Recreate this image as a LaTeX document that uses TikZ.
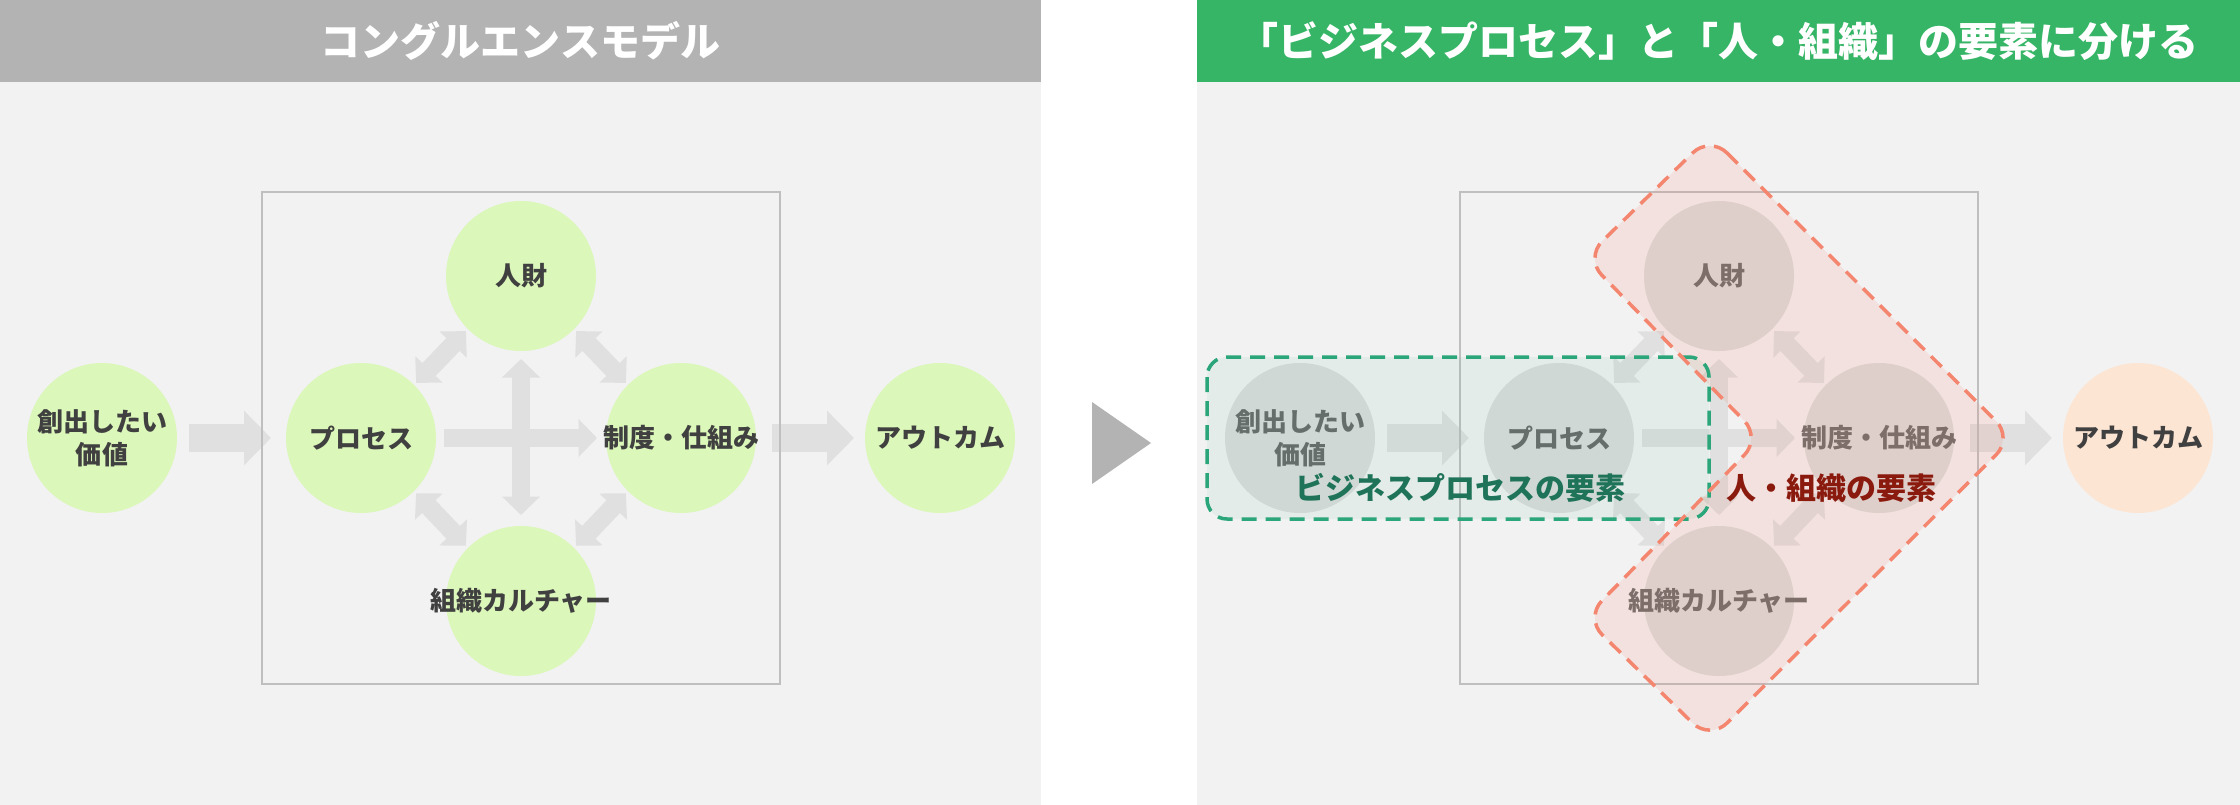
\documentclass[tikz,border=0pt]{standalone}
\usepackage{fontspec}
\setmainfont{Noto Sans CJK JP}
\usepackage{tikz}
\usetikzlibrary{arrows.meta,positioning}
\definecolor{panel-bg}{HTML}{F2F2F2}
\definecolor{header-gray}{HTML}{B3B3B3}
\definecolor{header-green}{HTML}{35B565}
\definecolor{bubble-green}{HTML}{DBF7BA}
\definecolor{bubble-gray}{HTML}{DCDCDC}
\definecolor{bubble-peach}{HTML}{FDE5D3}
\definecolor{arrow-gray}{HTML}{E0E0E0}
\definecolor{frame-gray}{HTML}{BFBFBF}
\definecolor{text-dark}{HTML}{404040}
\definecolor{text-faded}{HTML}{6A6A6A}
\definecolor{dash-green}{HTML}{2BA57A}
\definecolor{dash-red}{HTML}{F4866F}
\definecolor{label-green}{HTML}{1F7358}
\definecolor{label-red}{HTML}{8B1A0E}
\tikzset{
    bubble/.style = {circle, minimum size=150pt, inner sep=0pt, outer sep=0pt, fill=bubble-green},
    bubble-text/.style = {text=text-dark, font=\fontsize{26}{33}\selectfont\bfseries, align=center, inner sep=0pt},
    faded-text/.style = {bubble-text, text=text-faded},
    header-text/.style = {text=white, font=\fontsize{40}{44}\selectfont\bfseries, inner sep=0pt},
    group-label/.style = {font=\fontsize{30}{36}\selectfont\bfseries, inner sep=0pt},
    big-arrow/.style = {draw=arrow-gray, line width=28pt, -{Triangle[width=53pt, length=27pt]}},
    small-arrow/.style = {draw=arrow-gray, line width=18.5pt, -{Triangle[width=37pt, length=18.5pt]}},
    small-double/.style = {small-arrow, {Triangle[width=37pt, length=18.5pt]}-{Triangle[width=37pt, length=18.5pt]}},
    group-box/.style = {dash pattern=on 15pt off 9pt, line width=3.5pt, rounded corners=20pt},
}

\begin{document}
\begin{tikzpicture}[x=1pt, y=-1pt]
\useasboundingbox (0,0) rectangle (2240,805);
\fill[white] (0,0) rectangle (2240,805);

\fill[panel-bg] (0,82) rectangle (1041,805);
\fill[header-gray] (0,0) rectangle (1041,82);
\node[header-text] (left-title) at (520.5,41) {コングルエンスモデル};

\node[bubble, label={[bubble-text]center:創出したい\\価値}] (value) at (102,438) {};
\node[bubble, label={[bubble-text]center:プロセス}] (process) at (361,438) {};
\node[bubble, label={[bubble-text]center:人財}] (people) at (521,276) {};
\node[bubble, label={[bubble-text]center:制度・仕組み}] (system) at (681,438) {};
\node[bubble, label={[bubble-text]center:組織カルチャー}] (culture) at (521,601) {};
\node[bubble, label={[bubble-text]center:アウトカム}] (outcome) at (940,438) {};

\draw[big-arrow, shorten <=12pt, shorten >=15pt] (value.east) -- (process.west);
\draw[big-arrow, shorten <=16pt, shorten >=11pt] (system.east) -- (outcome.west);
\draw[small-arrow, shorten <=8pt, shorten >=9pt] (process.east) -- (system.west);
\draw[small-double, shorten <=8pt, shorten >=11pt] (people.south) -- (culture.north);
\draw[small-double, shorten <=3pt, shorten >=3pt] (process.45) -- (people.225);
\draw[small-double, shorten <=3pt, shorten >=3pt] (people.315) -- (system.135);
\draw[small-double, shorten <=3pt, shorten >=3pt] (process.315) -- (culture.135);
\draw[small-double, shorten <=3pt, shorten >=3pt] (system.225) -- (culture.45);
\draw[frame-gray, line width=2pt] (262,192) rectangle (780,684);

\fill[header-gray] (1092,402) -- (1151,443) -- (1092,484) -- cycle;

\fill[panel-bg] (1197,82) rectangle (2240,805);
\fill[header-green] (1197,0) rectangle (2240,82);
\node[header-text] (right-title) at (1718.5,41) {「ビジネスプロセス」と「人・組織」の要素に分ける};

\begin{scope}[xshift=1198pt]
\node[bubble, fill=bubble-gray, label={[faded-text]center:創出したい\\価値}] (r-value) at (102,438) {};
\node[bubble, fill=bubble-gray, label={[faded-text]center:プロセス}] (r-process) at (361,438) {};
\node[bubble, fill=bubble-gray, label={[faded-text]center:人財}] (r-people) at (521,276) {};
\node[bubble, fill=bubble-gray, label={[faded-text]center:制度・仕組み}] (r-system) at (681,438) {};
\node[bubble, fill=bubble-gray, label={[faded-text]center:組織カルチャー}] (r-culture) at (521,601) {};
\node[bubble, fill=bubble-peach, label={[bubble-text]center:アウトカム}] (r-outcome) at (940,438) {};

\draw[big-arrow, shorten <=12pt, shorten >=15pt] (r-value.east) -- (r-process.west);
\draw[big-arrow, shorten <=16pt, shorten >=11pt] (r-system.east) -- (r-outcome.west);
\draw[small-arrow, shorten <=8pt, shorten >=9pt] (r-process.east) -- (r-system.west);
\draw[small-double, shorten <=8pt, shorten >=11pt] (r-people.south) -- (r-culture.north);
\draw[small-double, shorten <=3pt, shorten >=3pt] (r-process.45) -- (r-people.225);
\draw[small-double, shorten <=3pt, shorten >=3pt] (r-people.315) -- (r-system.135);
\draw[small-double, shorten <=3pt, shorten >=3pt] (r-process.315) -- (r-culture.135);
\draw[small-double, shorten <=3pt, shorten >=3pt] (r-system.225) -- (r-culture.45);
\draw[frame-gray, line width=2pt] (262,192) rectangle (780,684);

\fill[dash-green, fill opacity=0.07, rounded corners=20pt] (9,357) rectangle (511,519);
\fill[dash-red, fill opacity=0.15, rounded corners=24pt] (512,136) -- (815,438) -- (512,740) -- (387,618) -- (563,438) -- (387,258) -- cycle;
\draw[group-box, draw=dash-green] (9,357) rectangle (511,519);
\draw[group-box, draw=dash-red, rounded corners=24pt] (512,136) -- (815,438) -- (512,740) -- (387,618) -- (563,438) -- (387,258) -- cycle;

\node[group-label, text=label-green] (business-label) at (262,488) {ビジネスプロセスの要素};
\node[group-label, text=label-red] (people-label) at (633,488) {人・組織の要素};
\end{scope}
\end{tikzpicture}
\end{document}
